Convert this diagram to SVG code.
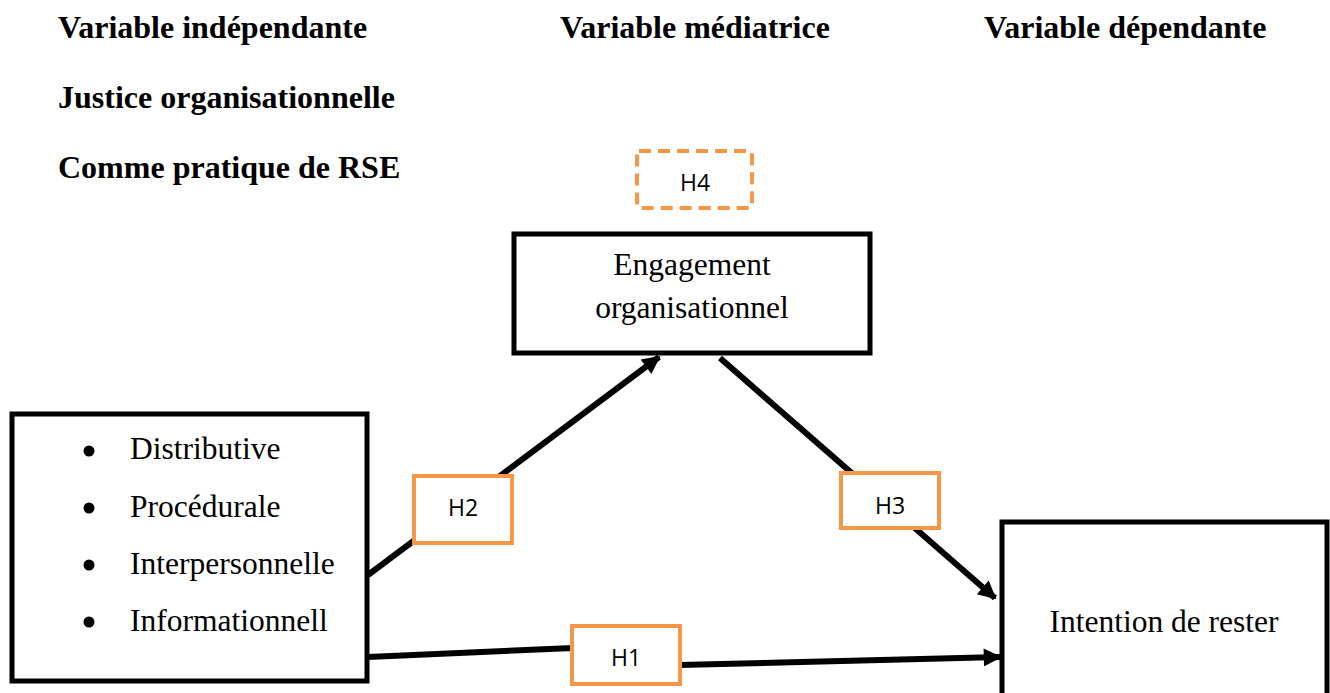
<svg xmlns="http://www.w3.org/2000/svg" width="1330" height="693" viewBox="0 0 1330 693">
<style>
.hdr{font-family:"Liberation Serif",serif;font-weight:bold;font-size:32px;fill:#000}
.txt{font-family:"Liberation Serif",serif;font-size:31.5px;fill:#000}
.box{fill:#fff;stroke:#000;stroke-width:5}
.hyp{fill:#fff;stroke:#F79646;stroke-width:4}
.hl{font-family:"Open Sans","Liberation Sans",sans-serif;font-size:23px;fill:#000;text-anchor:middle}
.con{stroke:#000;stroke-width:6;fill:none}
</style>
<defs>
<marker id="arr" viewBox="0 0 10 10" refX="9" refY="5" markerWidth="3.6" markerHeight="3" orient="auto" markerUnits="strokeWidth">
<path d="M0,0 L10,5 L0,10 z" fill="#000"/>
</marker>
</defs>
<rect width="1330" height="693" fill="#fff"/>
<g id="headers">
<text class="hdr" x="58" y="38">Variable indépendante</text>
<text class="hdr" x="560" y="38">Variable médiatrice</text>
<text class="hdr" x="984" y="38">Variable dépendante</text>
<text class="hdr" x="58" y="108">Justice organisationnelle</text>
<text class="hdr" x="58" y="178">Comme pratique de RSE</text>
</g>
<g id="connectors">
<line class="con" x1="368" y1="575" x2="659" y2="357" marker-end="url(#arr)"/>
<line class="con" x1="720" y1="358" x2="995" y2="598" marker-end="url(#arr)"/>
<line class="con" x1="368" y1="657" x2="573" y2="648"/>
<line class="con" x1="679" y1="665" x2="1000" y2="657" marker-end="url(#arr)"/>
</g>
<g id="left">
<rect class="box" x="12" y="414" width="355" height="267"/>
<circle cx="89" cy="451" r="5.5"/>
<circle cx="89" cy="508" r="5.5"/>
<circle cx="89" cy="565" r="5.5"/>
<circle cx="89" cy="622" r="5.5"/>
<text class="txt" x="130" y="459">Distributive</text>
<text class="txt" x="130" y="517">Procédurale</text>
<text class="txt" x="130" y="574">Interpersonnelle</text>
<text class="txt" x="130" y="631">Informationnell</text>
</g>
<g id="engagement">
<rect class="box" x="514" y="234" width="356" height="119"/>
<text class="txt" x="692" y="275" text-anchor="middle">Engagement</text>
<text class="txt" x="692" y="318" text-anchor="middle">organisationnel</text>
</g>
<g id="intention">
<rect class="box" x="1002" y="522" width="325" height="180"/>
<text class="txt" x="1164" y="632" text-anchor="middle">Intention de rester</text>
</g>
<g id="h4">
<rect class="hyp" x="637" y="151" width="115" height="57" rx="2" stroke-dasharray="12 7"/>
<text class="hl" x="695" y="191">H4</text>
</g>
<g id="h2">
<rect class="hyp" x="414" y="476" width="98" height="67"/>
<text class="hl" x="463" y="516">H2</text>
</g>
<g id="h3">
<rect class="hyp" x="841" y="473" width="98" height="55"/>
<text class="hl" x="890" y="514">H3</text>
</g>
<g id="h1">
<rect class="hyp" x="572" y="626" width="108" height="58"/>
<text class="hl" x="626" y="666">H1</text>
</g>
</svg>
